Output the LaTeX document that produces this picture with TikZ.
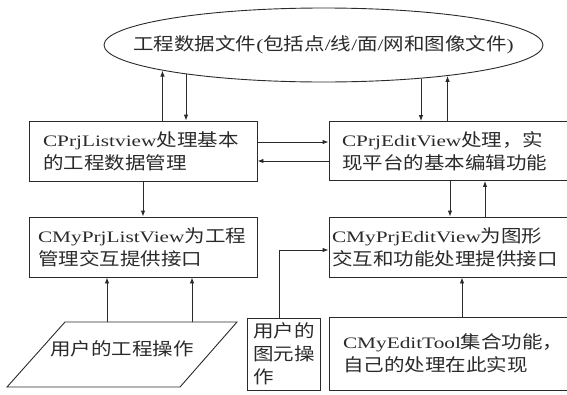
\documentclass[tikz,border=0pt]{standalone}
\usepackage{fontspec}
\setmainfont[FakeStretch=1.33]{Liberation Serif}
\newfontfamily\cjk[FakeStretch=1.165,Scale=1.1]{Noto Sans CJK SC}
\usetikzlibrary{shapes.geometric,arrows.meta}
\newcommand\zh[1]{{\cjk #1}}
\definecolor{ink}{HTML}{2A2A2A}
\begin{document}
\begin{tikzpicture}[x=1pt,y=-1pt,
  every node/.style={font=\fontsize{16}{23}\selectfont, text=ink},
  box/.style={draw=ink, line width=0.9pt, rectangle, inner ysep=0pt, align=left},
  arr/.style={draw=ink, line width=0.9pt, -{Latex[length=6pt,width=4.5pt]}}]
\useasboundingbox (0,0) rectangle (567,394);
\clip (0,0) rectangle (567,394);
% ellipse
\node[draw=ink, line width=0.9pt, ellipse, minimum width=439, minimum height=74, inner sep=0pt,
  label={center:\zh{工程数据文件}(\zh{包括点}/\zh{线}/\zh{面}/\zh{网和图像文件})}] (e) at (323.5,45) {};
% boxes
\node[box, minimum width=228, minimum height=60, inner xsep=14, text width=200] (b1) at (143,151)
  {CPrjListview\zh{处理基本}\\\zh{的工程数据管理}};
\node[box, minimum width=251, minimum height=59, inner xsep=13, text width=225] (b2) at (454.5,151)
  {CPrjEditView\zh{处理，实}\\\zh{现平台的基本编辑功能}};
\node[box, minimum width=228, minimum height=60, inner xsep=9, text width=210] (b3) at (143,247)
  {CMyPrjListView\zh{为工程}\\\zh{管理交互提供接口}};
\node[box, minimum width=251, minimum height=60, inner xsep=3, text width=245] (b4) at (454.5,247)
  {CMyPrjEditView\zh{为图形}\\\zh{交互和功能处理提供接口}};
\node[box, minimum width=73, minimum height=72, inner xsep=6, text width=61] (s) at (283.5,354)
  {\zh{用户的}\\\zh{图元操}\\\zh{作}};
\node[box, minimum width=258, minimum height=73, inner xsep=14, text width=230] (t) at (458,353.5)
  {CMyEditTool\zh{集合功能，}\\\zh{自己的处理在此实现}};
% parallelogram
\draw[ink, line width=0.9pt] (65,322) -- (237,322) -- (180,387) -- (7,387) -- cycle;
\node (p) at (122,349) {\zh{用户的工程操作}};
\coordinate (pa1) at (107,322);
\coordinate (pa2) at (192,322);
% connectors
\draw[arr] (b1.north -| e.189.4) -- (e.189.4);
\draw[arr] (e.192.7) -- (b1.north -| e.192.7);
\draw[arr] (e.341.2) -- (b2.north -| e.341.2);
\draw[arr] (b2.north -| e.346.2) -- (e.346.2);
\draw[arr] ([yshift=9pt]b1.east) -- ([yshift=9pt]b2.west);
\draw[arr] ([yshift=-10pt]b2.west) -- ([yshift=-10pt]b1.east);
\draw[arr] (b1.south) -- (b3.north);
\draw[arr] ([xshift=-4.5pt]b2.south) -- ([xshift=-4.5pt]b4.north);
\draw[arr] ([xshift=30.5pt]b4.north) -- ([xshift=30.5pt]b2.south);
\draw[arr] ([xshift=-4.5pt]s.north) |- ([yshift=-3pt]b4.west);
\draw[arr] ([xshift=4pt]t.north) -- ([xshift=4pt]t.north |- b4.south);
\draw[arr] (pa1) -- (pa1 |- b3.south);
\draw[arr] (pa2) -- (pa2 |- b3.south);
\end{tikzpicture}
\end{document}
